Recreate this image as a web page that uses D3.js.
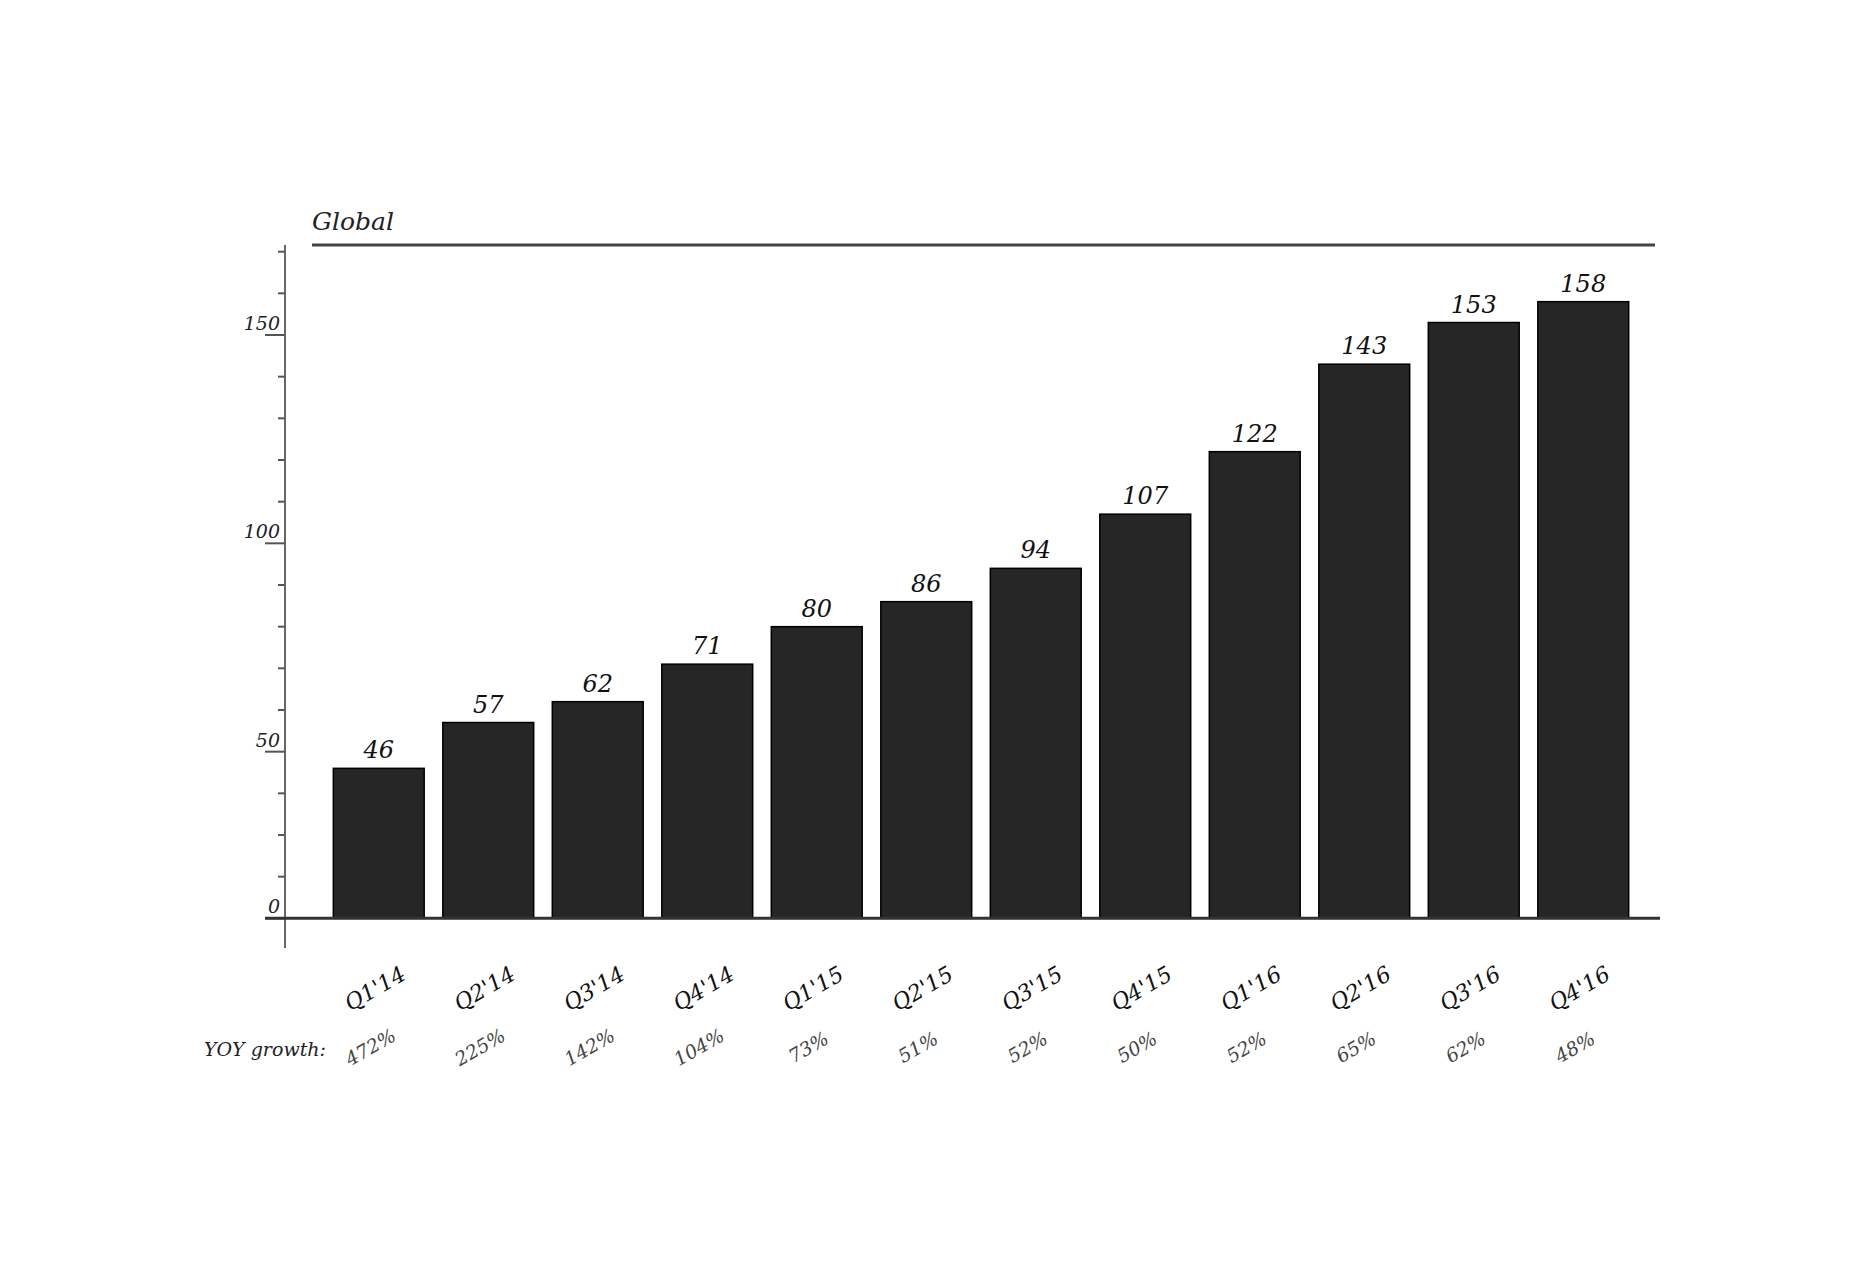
<!DOCTYPE html>
<html><head><meta charset="utf-8">
<script src="https://cdn.jsdelivr.net/npm/d3@7"></script>
<style>body{margin:0;background:#fff}text{font-family:"DejaVu Serif","Liberation Serif",serif;font-style:italic}</style>
</head><body><svg id="c" width="1856" height="1280"></svg>
<script>
const categories=["Q1'14","Q2'14","Q3'14","Q4'14","Q1'15","Q2'15","Q3'15","Q4'15","Q1'16","Q2'16","Q3'16","Q4'16"];
const values=[46,57,62,71,80,86,94,107,122,143,153,158];
const growth=["472%","225%","142%","104%","73%","51%","52%","50%","52%","65%","62%","48%"];
const tickValues=[10,20,30,40,50,60,70,80,90,100,110,120,130,140,150,160,170];
const tickLabels={10:"0",50:"50",100:"100",150:"150"};

const svg=d3.select("#c");
const x=d3.scaleBand().domain(categories).range([324,1638]).paddingInner(0.17).paddingOuter(0.085);
const y=d3.scaleLinear().domain([0,150]).range([960,335]);
const base=y(10);

svg.append("text").attr("x",312).attr("y",230).attr("font-size",25).attr("fill","#222").text("Global");
svg.append("line").attr("x1",312).attr("x2",1655).attr("y1",245).attr("y2",245).attr("stroke","#444").attr("stroke-width",3);

// y axis
svg.append("line").attr("x1",285).attr("x2",285).attr("y1",245).attr("y2",948).attr("stroke","#666").attr("stroke-width",2);
const yt=svg.append("g");
yt.selectAll("line").data(tickValues).join("line")
 .attr("x1",d=>tickLabels[d]?265:278).attr("x2",285).attr("y1",d=>y(d)).attr("y2",d=>y(d))
 .attr("stroke","#555").attr("stroke-width",2);
yt.selectAll("text").data(tickValues.filter(d=>tickLabels[d])).join("text")
 .attr("x",280).attr("y",d=>y(d)-5).attr("text-anchor","end").attr("font-size",19).attr("fill","#222")
 .text(d=>tickLabels[d]);

// bars
svg.selectAll("rect.bar").data(values).join("rect").attr("class","bar")
 .attr("x",(d,i)=>x(categories[i])).attr("width",x.bandwidth())
 .attr("y",d=>y(d)).attr("height",d=>base-y(d))
 .attr("fill","#262626").attr("stroke","#000").attr("stroke-width",1.5);
svg.selectAll("text.val").data(values).join("text").attr("class","val")
 .attr("x",(d,i)=>x(categories[i])+x.bandwidth()/2).attr("y",d=>y(d)-10)
 .attr("text-anchor","middle").attr("font-size",24).attr("fill","#111").text(d=>d);

// baseline
svg.append("line").attr("x1",265).attr("x2",1660).attr("y1",base).attr("y2",base).attr("stroke","#333").attr("stroke-width",3);

// category labels
svg.selectAll("text.cat").data(categories).join("text").attr("class","cat")
 .attr("transform",d=>`translate(${x(d)+x.bandwidth()/2},${995}) rotate(-30)`)
 .attr("text-anchor","middle").attr("font-size",22).attr("fill","#111").text(d=>d);

svg.append("text").attr("x",204).attr("y",1056).attr("font-size",19).attr("fill","#222").text("YOY growth:");
svg.selectAll("text.gr").data(growth).join("text").attr("class","gr")
 .attr("transform",(d,i)=>`translate(${x(categories[i])+x.bandwidth()/2-5},${1053}) rotate(-30)`)
 .attr("text-anchor","middle").attr("font-size",19).attr("fill","#444").text(d=>d);
</script></body></html>
